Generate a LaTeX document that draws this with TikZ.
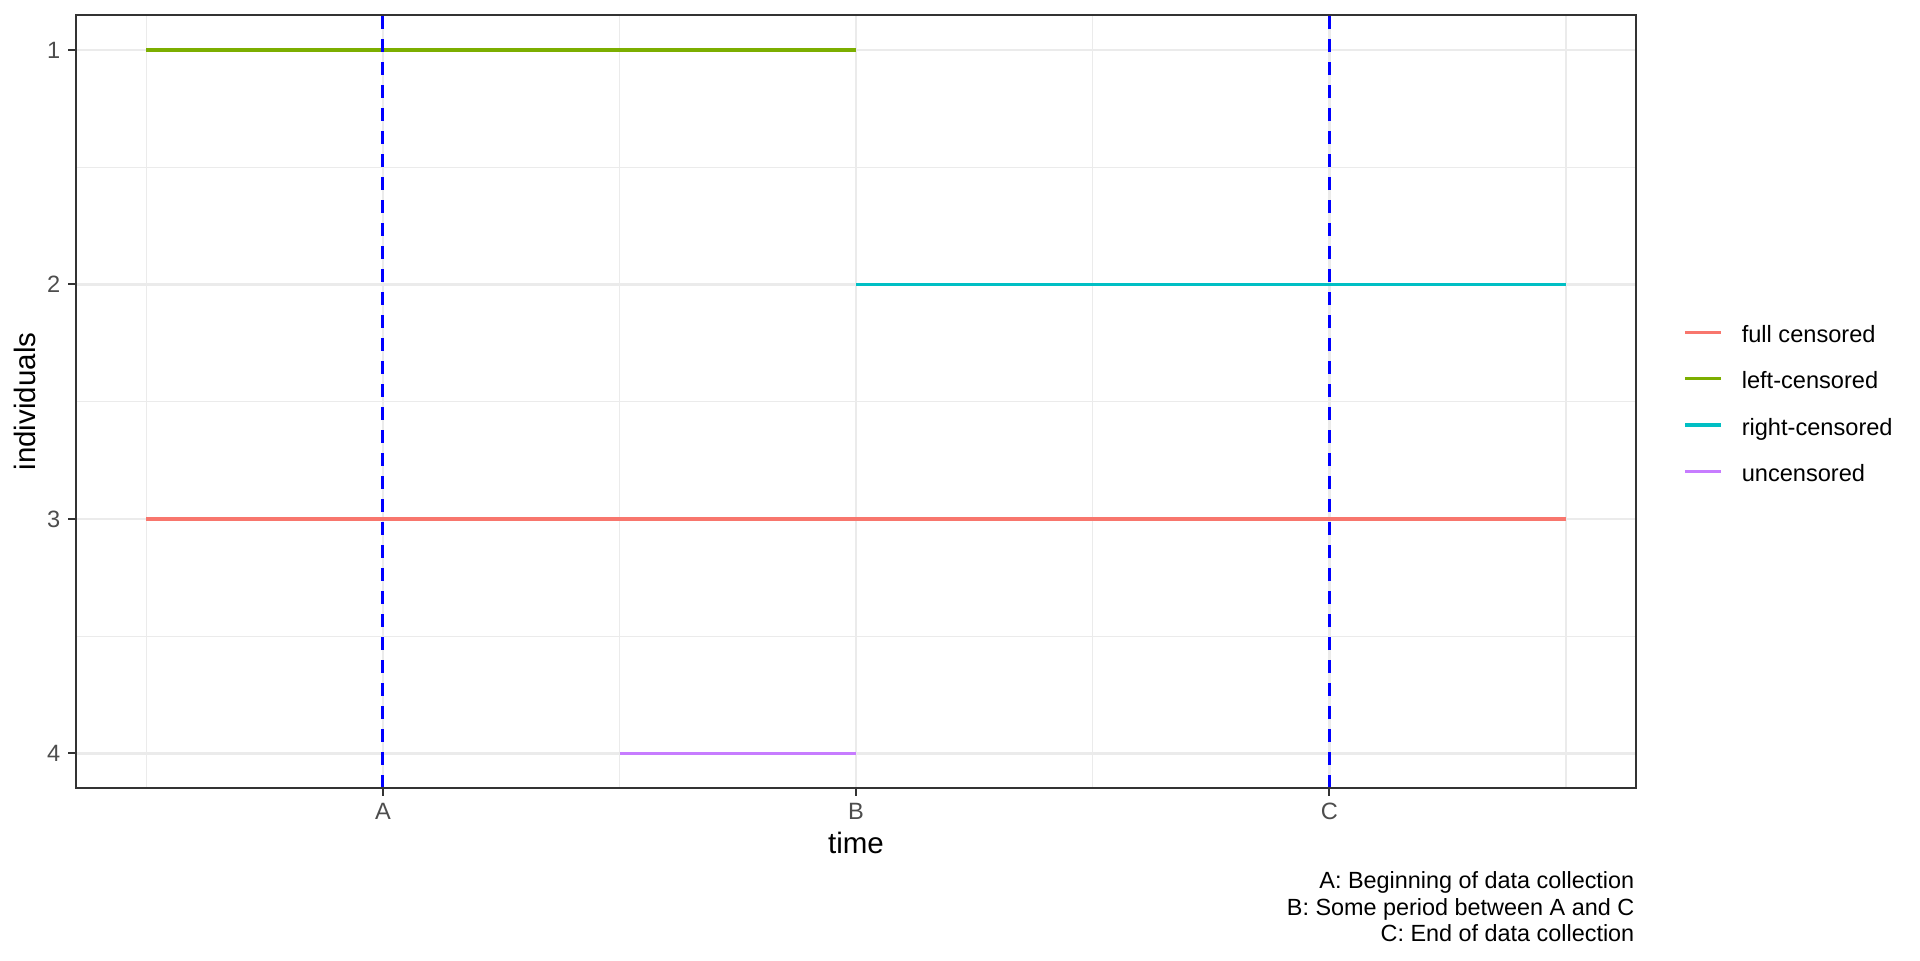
\documentclass[tikz,border=0pt]{standalone}
\usepackage{fontspec}
\setmainfont{Liberation Sans}
\definecolor{fullcens}{HTML}{F8766D}
\definecolor{leftcens}{HTML}{7CAE00}
\definecolor{rightcens}{HTML}{00BFC4}
\definecolor{uncens}{HTML}{C77CFF}
\definecolor{gridmaj}{HTML}{EBEBEB}
\definecolor{axisgray}{HTML}{4D4D4D}
\definecolor{bordergray}{HTML}{333333}
\tikzset{
  every picture/.style={line width=0.75pt},
  majorgrid/.style={color=gridmaj, line width=1.25pt},
  minorgrid/.style={color=gridmaj, line width=0.6pt},
  dataline/.style={line width=1.6pt},
  markline/.style={color=blue, line width=1.5pt, dash pattern=on 6.3pt off 5.2pt},
  ticktext/.style={inner sep=0pt, text=axisgray, font=\fontsize{11.8}{14}\selectfont},
  titletext/.style={inner sep=0pt, font=\fontsize{14.75}{17}\selectfont},
  keytext/.style={inner sep=0pt, anchor=base west, font=\fontsize{11.8}{14}\selectfont},
}

\begin{document}
\begin{tikzpicture}[x=0.5pt,y=0.5pt,yscale=-1,xscale=1]
\useasboundingbox (0,0) rectangle (1920,960);

%Minor grid
\foreach \gx in {146.3,619.5,1092.7,1565.9} \draw [minorgrid] (\gx,15) -- (\gx,788);
\foreach \gy in {167.2,401.7,636.1} \draw [minorgrid] (76,\gy) -- (1636,\gy);
%Major grid
\foreach \gx in {382.9,856.1,1329.3} \draw [majorgrid] (\gx,15) -- (\gx,788);
\foreach \gy in {50,284.4,518.9,753.3} \draw [majorgrid] (76,\gy) -- (1636,\gy);

%Data lines
\draw [dataline, color=leftcens]  (146.3,50) -- (856.1,50) ;
\draw [dataline, color=rightcens] (856.1,284.4) -- (1565.9,284.4) ;
\draw [dataline, color=fullcens]  (146.3,518.9) -- (1565.9,518.9) ;
\draw [dataline, color=uncens]    (619.5,753.3) -- (856.1,753.3) ;

%Vertical markers A and C
\draw [markline] (382.9,788) -- (382.9,15) ;
\draw [markline] (1329.3,788) -- (1329.3,15) ;

%Panel border
\draw [color=bordergray, line width=1pt] (76,15) rectangle (1636,788) ;

%Ticks and labels, y axis
\foreach \gy/\lab in {50/1,284.4/2,518.9/3,753.3/4} {
  \draw [color=bordergray, line width=1pt] (68,\gy) -- (76,\gy) ;
  \node (ylab\lab) [ticktext, anchor=east] at (61,\gy) {\lab};
}
%Ticks and labels, x axis
\foreach \gx/\lab in {382.9/A,856.1/B,1329.3/C} {
  \draw [color=bordergray, line width=1pt] (\gx,788) -- (\gx,796) ;
  \node (xlab\lab) [ticktext, anchor=base] at (\gx,819.5) {\lab};
}

% Axis titles
\node (xtitle) [titletext, anchor=base] at (856,853) {time};
\node (ytitle) [titletext, anchor=base, rotate=90] at (35,401.5) {individuals};

% Legend
\draw [dataline, color=fullcens]  (1685,332.3) -- (1721,332.3) ;
\node (keyfull) [keytext] at (1741,342.3) {full censored};
\draw [dataline, color=leftcens]  (1685,378.7) -- (1721,378.7) ;
\node (keyleft) [keytext] at (1741,388.7) {left-censored};
\draw [dataline, color=rightcens] (1685,425) -- (1721,425) ;
\node (keyright) [keytext] at (1741,435) {right-censored};
\draw [dataline, color=uncens]    (1685,471.3) -- (1721,471.3) ;
\node (keyun) [keytext] at (1741,481.3) {uncensored};

% Caption
\node (caption) [inner sep=0pt, anchor=base east, align=right, font=\fontsize{11.7}{13.2}\selectfont] at (1635,941.5) {A: Beginning of data collection\\B: Some period between A and C\\C: End of data collection};

\end{tikzpicture}
\end{document}
